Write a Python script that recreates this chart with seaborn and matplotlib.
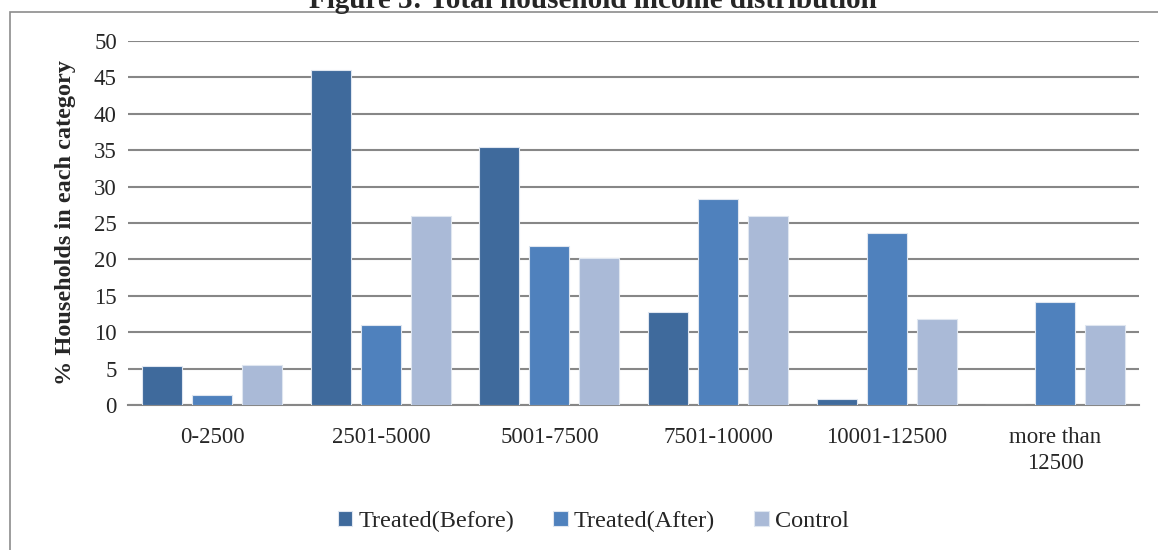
import pandas as pd
import matplotlib.pyplot as plt
import seaborn as sns
from matplotlib.patches import Rectangle

# data
categories = ['0-2500', '2501-5000', '5001-7500', '7501-10000', '10001-12500', 'more than\n12500']
treated_before = [5.3, 46.0, 35.4, 12.8, 0.8, 0.0]
treated_after = [1.4, 11.0, 21.8, 28.3, 23.6, 14.1]
control = [5.5, 26.0, 20.2, 26.0, 11.8, 11.0]
series = ['Treated(Before)', 'Treated(After)', 'Control']
colors = ['#3F6A9C', '#4F81BD', '#AABAD7']

df = pd.DataFrame({
    'category': categories * 3,
    'value': treated_before + treated_after + control,
    'series': [s for s in series for _ in categories],
})

sns.set_style('white')
plt.rcParams['font.family'] = ['Liberation Serif', 'DejaVu Serif']

fig = plt.figure(figsize=(11.58, 5.50), dpi=100)
ax = fig.add_axes([0.1105, 0.2636, 0.8735, 0.6619])

sns.barplot(data=df, x='category', y='value', hue='series', order=categories,
            hue_order=series, palette=colors, saturation=1, width=0.89, gap=0.2,
            edgecolor='#dfe6f0', linewidth=0.8, ax=ax, zorder=3)

ax.set_ylim(0, 50)
ax.set_xlim(-0.5, 5.5)
ax.set_yticks(range(0, 51, 5))
ax.yaxis.grid(True, color='#878787', linewidth=1.5, zorder=0)
ax.set_axisbelow(True)
for side in ['top', 'right', 'left']:
    ax.spines[side].set_visible(False)
ax.spines['bottom'].set_color('#878787')
ax.spines['bottom'].set_linewidth(1.5)
ax.tick_params(axis='both', length=0, labelsize=16.5)
ax.tick_params(axis='y', pad=8)
ax.tick_params(axis='x', pad=16)
for lbl in ax.get_xticklabels():
    lbl.set_linespacing(1.3)
ax.set_xlabel('')
ax.set_ylabel('% Households in each category', fontsize=17.5, fontweight='bold', labelpad=13)

ax.legend(loc='upper center', bbox_to_anchor=(0.46, -0.23), ncol=3, frameon=False,
          fontsize=17.5, handlelength=0.6, handleheight=0.6, handletextpad=0.25,
          columnspacing=1.6)

# outer chart border and clipped title
fig.patches.append(Rectangle((10 / 1158, -0.1), 1.2, 1 - 12 / 550 + 0.1,
                             transform=fig.transFigure, fill=False,
                             edgecolor='#8c8c8c', linewidth=1.2))
fig.text(0.512, 1.0, 'Figure 3: Total household income distribution', ha='center',
         va='center', fontsize=21, fontweight='bold')

fig.savefig('out.png', dpi=100)
